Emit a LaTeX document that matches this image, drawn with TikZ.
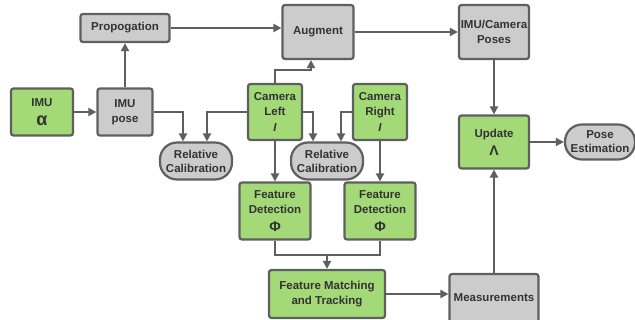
\documentclass[tikz,border=0pt]{standalone}
\usepackage{fontspec}
\setmainfont{Liberation Sans}
\usetikzlibrary{arrows.meta}
\definecolor{boxgreen}{HTML}{A3D977}
\definecolor{boxgray}{HTML}{CCCCCC}
\definecolor{edgegray}{HTML}{5F5F5F}
\definecolor{textgray}{HTML}{333333}

\begin{document}
\begin{tikzpicture}[node distance=105pt,
  box/.style={rectangle, rounded corners=2.5pt, line width=2.2pt, draw=edgegray, text=textgray, align=center, inner sep=1pt,
    font=\fontsize{11.5}{15}\selectfont\bfseries},
  greenbox/.style={box, fill=boxgreen},
  graybox/.style={box, fill=boxgray},
  calib/.style={box, fill=boxgray, rounded corners=17pt, minimum width=72pt, minimum height=37pt, font=\fontsize{11.5}{14}\selectfont\bfseries},
  arr/.style={-{Triangle[length=8pt,width=8pt]}, line width=2.2pt, draw=edgegray}]
\useasboundingbox (0,0) rectangle (635pt,-320pt);

% Ветка IMU
\node (imu) [greenbox, minimum width=62pt, minimum height=47pt] at (42pt,-112pt) {IMU\\[4pt]{\fontsize{18}{18}\selectfont α}};
\node (pose) [graybox, minimum width=55pt, minimum height=47pt, right of=imu, xshift=-22pt] {IMU\\pose};
\node (prop) [graybox, minimum width=89pt, minimum height=28pt, above of=pose, yshift=-21pt] {Propogation};

% Камеры
\node (camL) [greenbox, minimum width=54pt, minimum height=56pt, right of=pose, xshift=45pt] {Camera\\Left\\[1pt]\textit{I}};
\node (camR) [greenbox, minimum width=54pt, minimum height=56pt, right of=camL] {Camera\\Right\\[1pt]\textit{I}};
\node (aug) [graybox, minimum width=71pt, minimum height=54pt, above of=camL, xshift=43pt, yshift=-25pt] {Augment};

\node (rel1) [calib, left of=camL, xshift=26pt, yshift=-49pt] {Relative\\Calibration};
\node (rel2) [calib, right of=camL, xshift=-53pt, yshift=-49pt] {Relative\\Calibration};

% Признаки
\node (fd1) [greenbox, minimum width=71pt, minimum height=57pt, below of=camL, yshift=6pt] {Feature\\Detection\\[3pt]{\fontsize{14}{15}\selectfont Φ}};
\node (fd2) [greenbox, minimum width=71pt, minimum height=57pt, below of=camR, yshift=6pt] {Feature\\Detection\\[3pt]{\fontsize{14}{15}\selectfont Φ}};
\node (fmt) [greenbox, minimum width=116pt, minimum height=48pt, below of=fd1, xshift=52pt, yshift=22pt] {Feature Matching\\and Tracking};
\coordinate (merge) at ([yshift=14pt]fmt.north);

% Правая часть
\node (meas) [graybox, minimum width=89pt, minimum height=48pt, right of=fmt, xshift=62pt, yshift=-4pt] {Measurements};
\node (update) [greenbox, minimum width=70pt, minimum height=53pt, right of=camR, xshift=9pt, yshift=-30pt] {Update\\[3pt]{\fontsize{14}{15}\selectfont Λ}};
\node (poses) [graybox, minimum width=70pt, minimum height=54pt, above of=update, yshift=5pt] {IMU/Camera\\Poses};
\node (posest) [calib, minimum width=70pt, minimum height=35pt, right of=update, xshift=1pt] {Pose\\Estimation};

\draw[arr] (imu) -- (pose);
\draw[arr] (pose) -- (prop);
\draw[arr] (prop) -- (prop -| aug.west);
\draw[arr] (aug) -- (poses);
\draw[arr] (camL.north) -- ++(0,13pt) -| ([xshift=-7pt]aug.south);

\draw[arr] (pose.east) -| ([xshift=-13pt]rel1.north);
\draw[arr] (camL.west) -| ([xshift=11pt]rel1.north);
\draw[arr] (camL.east) -| ([xshift=-14pt]rel2.north);
\draw[arr] (camR.west) -| ([xshift=14pt]rel2.north);

\draw[arr] (camL) -- (fd1);
\draw[arr] (camR) -- (fd2);
\draw[line width=2.2pt, draw=edgegray] (fd1.south) |- (merge) -| (fd2.south);
\draw[arr] (merge) -- (fmt);

\draw[arr] (fmt.east) -- (fmt.east -| meas.west);
\draw[arr] (meas) -- (update);
\draw[arr] (poses) -- (update);
\draw[arr] (update) -- (posest);

\end{tikzpicture}
\end{document}
